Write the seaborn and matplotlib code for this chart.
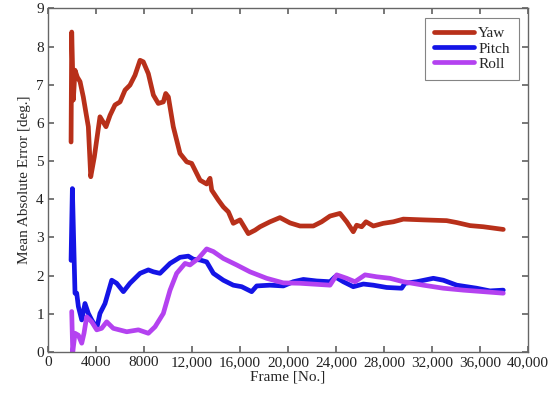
import matplotlib
matplotlib.use("agg")
import matplotlib.pyplot as plt
import pandas as pd
import seaborn as sns

# Values
yaw_frame = [1920, 1975, 2110, 2250, 2440, 2670, 2940, 3170, 3360, 3560, 3860, 4330, 4830,
             5170, 5580, 6000, 6420, 6830, 7250, 7670, 7940, 8360, 8780, 9190, 9610, 9810,
             10030, 10440, 11000, 11560, 11970, 12670, 13220, 13500, 13640, 14190, 14610, 15030,
             15440, 16000, 16690, 17250, 17670, 18500, 19330, 20170, 21000, 22110, 22800,
             23500, 24330, 24890, 25440, 25720, 26140, 26500, 27110, 27940, 28780, 29610,
             31280, 33220, 34060, 35170, 36280, 37940]
yaw_err = [5.5, 8.38, 6.6, 7.38, 7.2, 7.08, 6.68, 6.25, 5.9, 4.59, 5.11, 6.16, 5.9,
           6.2, 6.47, 6.55, 6.86, 6.99, 7.25, 7.64, 7.6, 7.29, 6.73, 6.51, 6.55, 6.77,
           6.68, 5.9, 5.2, 4.98, 4.94, 4.5, 4.4, 4.55, 4.24, 3.98, 3.8, 3.67,
           3.37, 3.46, 3.1, 3.19, 3.28, 3.41, 3.52, 3.38, 3.3, 3.3, 3.41,
           3.56, 3.63, 3.41, 3.15, 3.32, 3.28, 3.41, 3.3, 3.37, 3.41, 3.48,
           3.46, 3.44, 3.39, 3.31, 3.28, 3.21]

pitch_frame = [1920, 2030, 2150, 2250, 2390, 2530, 2810, 3080, 3360, 3640, 4060, 4330, 4750,
               5310, 5720, 6280, 6830, 7670, 8360, 8780, 9330, 10170, 11000, 11690, 12110,
               12670, 13220, 13780, 14610, 15440, 16140, 16970, 17390, 18500, 19610, 20440,
               21280, 22390, 23500, 23920, 24610, 25440, 26280, 27110, 28220, 29470, 29750,
               30720, 32110, 32940, 34060, 35720, 36830, 37940]
pitch_err = [2.4, 4.28, 2.76, 1.54, 1.54, 1.19, 0.84, 1.27, 1.01, 0.84, 0.62, 1.01, 1.27,
             1.88, 1.8, 1.58, 1.8, 2.06, 2.15, 2.1, 2.06, 2.32, 2.48, 2.51, 2.43,
             2.41, 2.36, 2.06, 1.88, 1.75, 1.71, 1.58, 1.73, 1.75, 1.73, 1.84,
             1.9, 1.86, 1.84, 1.97, 1.84, 1.71, 1.78, 1.75, 1.69, 1.67, 1.8,
             1.84, 1.93, 1.88, 1.75, 1.67, 1.6, 1.62]

roll_frame = [1975, 2060, 2250, 2530, 2810, 3000, 3220, 3640, 4060, 4470, 4890, 5440, 6560,
              7530, 8360, 8920, 9610, 10170, 10720, 11420, 11830, 12530, 13220, 13780,
              14610, 15720, 16830, 18220, 19610, 21000, 23500, 24060, 24890, 25580, 26420,
              27390, 28500, 29610, 31280, 32940, 34610, 36280, 37940]
roll_err = [1.06, 0.0, 0.49, 0.44, 0.23, 0.49, 0.92, 0.79, 0.58, 0.62, 0.79, 0.62, 0.53,
            0.58, 0.49, 0.66, 1.01, 1.62, 2.06, 2.32, 2.28, 2.45, 2.7, 2.63,
            2.45, 2.28, 2.1, 1.93, 1.81, 1.8, 1.75, 2.02, 1.93, 1.84, 2.02,
            1.97, 1.93, 1.84, 1.75, 1.67, 1.62, 1.58, 1.54]

x_ticks = [0, 4000, 8000, 12000, 16000, 20000, 24000, 28000, 32000, 36000, 40000]
x_tick_labels = ["0", "4000", "8000", "12,000", "16,000", "20,000", "24,000",
                 "28,000", "32,000", "36,000", "40,000"]
y_ticks = [0, 1, 2, 3, 4, 5, 6, 7, 8, 9]

palette = {"Yaw": "#B8301A", "Pitch": "#1414E6", "Roll": "#B442F0"}

df = pd.concat([
    pd.DataFrame({"Frame": yaw_frame, "Error": yaw_err, "Axis": "Yaw"}),
    pd.DataFrame({"Frame": pitch_frame, "Error": pitch_err, "Axis": "Pitch"}),
    pd.DataFrame({"Frame": roll_frame, "Error": roll_err, "Axis": "Roll"}),
], ignore_index=True)

sns.set_theme(style="ticks")
plt.rcParams["font.family"] = ["Liberation Serif", "DejaVu Serif"]

fig = plt.figure(figsize=(5.5, 3.98), dpi=100)
ax = fig.add_axes([0.0873, 0.1156, 0.8727, 0.8634])

sns.lineplot(data=df, x="Frame", y="Error", hue="Axis", palette=palette,
             estimator=None, sort=False, linewidth=3.4, ax=ax)

ax.set_xlim(0, 40000)
ax.set_ylim(0, 9)
ax.set_xticks(x_ticks)
ax.set_xticklabels(x_tick_labels)
ax.set_yticks(y_ticks)
ax.tick_params(direction="in", top=True, right=True, labelsize=11, color="#666666",
               length=4, pad=3, labelcolor="#222222")
for spine in ax.spines.values():
    spine.set_color("#666666")
    spine.set_linewidth(1)

ax.set_xlabel("Frame [No.]", fontsize=11, labelpad=1)
ax.set_ylabel("Mean Absolute Error [deg.]", fontsize=11, labelpad=4)

leg = ax.legend(loc="upper right", fontsize=11, frameon=True, fancybox=False,
                handlelength=2.6, borderpad=0.6, labelspacing=0.1, handletextpad=0.3,
                borderaxespad=0.6)
leg.get_frame().set_edgecolor("#666666")
leg.get_frame().set_linewidth(0.8)
for line in leg.get_lines():
    line.set_linewidth(3.4)

fig.savefig("out.png", dpi=100)
